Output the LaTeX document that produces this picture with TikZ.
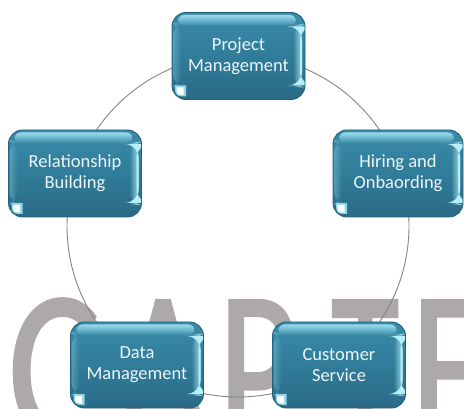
\documentclass[tikz,border=0pt]{standalone}
\usepackage{fontspec}
\usepackage{graphicx}
\setmainfont{Carlito}
\newfontfamily\wmfont[FakeBold=1.3]{Carlito}
\usetikzlibrary{fadings}
\definecolor{boxtop}{HTML}{3A8BA9}
\definecolor{boxmid}{HTML}{307C99}
\definecolor{boxbot}{HTML}{2A6B87}
\definecolor{boxedge}{HTML}{22627B}
\definecolor{hl}{HTML}{9ADBEB}
\definecolor{hlr}{HTML}{B8EEF8}
\definecolor{glintc}{HTML}{8ED8EA}
\definecolor{boxtext}{HTML}{EEF6FA}
\definecolor{wmgray}{HTML}{ADA9A8}
\definecolor{ringgray}{HTML}{858585}
\tikzfading[name=fadeR, left color=transparent!100, right color=transparent!0]
\tikzfading[name=fadeL, left color=transparent!0, right color=transparent!100]
\tikzset{
  wm/.style={inner sep=0pt, text=wmgray, font=\wmfont\fontsize{221}{221}\selectfont},
  ring/.style={draw=ringgray, line width=0.9pt, circle, inner sep=0pt, minimum size=342pt},
  gbox/.style={
    rounded corners=14pt, minimum width=133pt, minimum height=87pt, inner sep=2pt,
    top color=boxtop, bottom color=boxbot, middle color=boxmid,
    draw=boxedge, line width=0.9pt,
    text=boxtext, align=center, font=\fontsize{18.5}{21}\selectfont,
    path picture={
      \path (path picture bounding box.north west) coordinate (pnw)
            (path picture bounding box.north east) coordinate (pne)
            (path picture bounding box.south west) coordinate (psw)
            (path picture bounding box.south east) coordinate (pse);
      % top highlight
      \shade[top color=hl, bottom color=boxtop, rounded corners=6pt]
        ([xshift=6pt,yshift=-2.5pt]pnw) rectangle ([xshift=-9pt,yshift=-13pt]pne);
      % left soft band
      \fill[hl, opacity=0.35, path fading=fadeL]
        ([xshift=1pt,yshift=-10pt]pnw) rectangle ([xshift=9pt,yshift=12pt]psw);
      % right bright edge
      \fill[hlr, opacity=0.8, path fading=fadeR]
        ([xshift=-12pt,yshift=-12pt]pne) rectangle ([xshift=-3pt,yshift=12pt]pse);
      \fill[hlr]
        ([xshift=-5pt,yshift=-14pt]pne) rectangle ([xshift=-3pt,yshift=14pt]pse);
      % bottom-left glint
      \fill[glintc, sharp corners]
        ([xshift=3pt,yshift=14pt]psw) -- ([xshift=14pt,yshift=14pt]psw)
        -- ([xshift=14pt,yshift=3pt]psw) -- ([xshift=11pt,yshift=3pt]psw)
        .. controls ([xshift=5pt,yshift=3pt]psw) and ([xshift=3pt,yshift=5pt]psw)
        .. ([xshift=3pt,yshift=11pt]psw) -- cycle;
      \fill[white, sharp corners]
        ([xshift=4.5pt,yshift=12pt]psw) -- ([xshift=11.5pt,yshift=12pt]psw)
        -- ([xshift=11.5pt,yshift=4.5pt]psw) -- ([xshift=10pt,yshift=4.5pt]psw)
        .. controls ([xshift=6pt,yshift=4.5pt]psw) and ([xshift=4.5pt,yshift=6pt]psw)
        .. ([xshift=4.5pt,yshift=10pt]psw) -- cycle;
    }
  }
}
\begin{document}
\begin{tikzpicture}[x=1pt, y=-1pt]
\useasboundingbox (0,0) rectangle (464,409);
\fill[white] (0,0) rectangle (464,409);
% watermark letters
\begin{scope}
\clip (0,0) rectangle (464,409);
\node[wm, anchor=base west] (wC) at (8,442) {\scalebox{0.78}[1]{C}};
\node[wm, anchor=base west] (wA) at (118,442) {\scalebox{0.7}[1]{A}};
\node[wm, anchor=base west] (wP) at (218,442) {\scalebox{0.7}[1]{P}};
\node[wm, anchor=base west] (wT) at (331,442) {\scalebox{0.63}[1]{T}};
\node[wm, anchor=base west] (wE) at (411,442) {\scalebox{0.7}[1]{E}};
\end{scope}
% ring
\node[ring] (cyc) at (238,226) {};
% boxes
\node[gbox] (pm) at (238.5,56) {Project\\Management};
\node[gbox] (rb) at (75,173.5) {Relationship\\Building};
\node[gbox, minimum width=130pt] (ho) at (398,173.5) {Hiring and\\Onbaording};
\node[gbox, minimum height=86pt] (dm) at (137,365) {Data\\Management};
\node[gbox, minimum height=86pt] (cs) at (339,365) {Customer\\Service};
\end{tikzpicture}
\end{document}
